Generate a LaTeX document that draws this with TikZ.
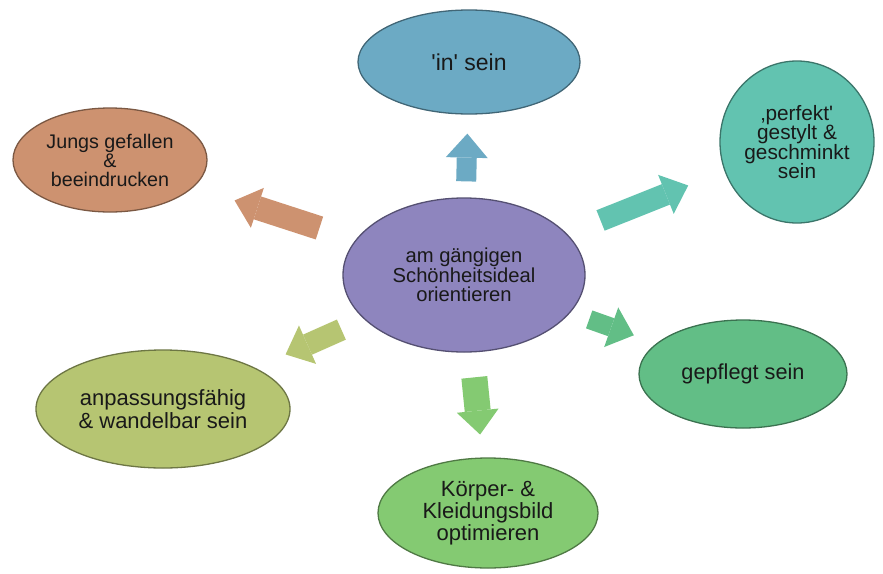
\documentclass[tikz,border=0pt]{standalone}
\usepackage{fontspec}
\setmainfont{Liberation Sans}[Ligatures=TeXOff]
\usepackage{xcolor}
\usetikzlibrary{shapes.geometric,arrows.meta}

\definecolor{hubcol}{RGB}{142,133,190}
\definecolor{incol}{RGB}{108,170,196}
\definecolor{perfcol}{RGB}{98,195,176}
\definecolor{pflegecol}{RGB}{98,190,134}
\definecolor{koerpercol}{RGB}{132,202,114}
\definecolor{anpasscol}{RGB}{182,197,114}
\definecolor{jungscol}{RGB}{205,146,112}

\begin{document}
\begin{tikzpicture}[x=1pt,y=-1pt,
    bubble/.style={ellipse, draw=#1!60!black, line width=1.3pt, fill=#1,
        inner sep=0pt, align=center, text=black!90},
    fatarrow/.style={draw=#1, line width=22pt,
        -{Triangle[length=24pt,width=42pt,line width=0pt]}},
]

    % Frame
    \useasboundingbox (0,0) rectangle (883,573);

    % Centre
    \node[bubble=hubcol, minimum width=242pt, minimum height=154pt,
        font=\fontsize{20.2}{19.5}\selectfont] (hub) at (464,275)
        {am gängigen\\Schönheitsideal\\orientieren};

    % Outer bubbles
    \node[bubble=incol, minimum width=222pt, minimum height=104pt,
        font=\fontsize{23}{23}\selectfont] (in) at (469,62) {'in' sein};
    \node[bubble=perfcol, minimum width=154pt, minimum height=162pt,
        font=\fontsize{20.8}{19.5}\selectfont] (perf) at (797,142)
        {‚perfekt'\\gestylt \&\\geschminkt\\sein};
    \node[bubble=pflegecol, minimum width=208pt, minimum height=108pt,
        font=\fontsize{21.7}{21}\selectfont] (pflege) at (743,374) {gepflegt sein};
    \node[bubble=koerpercol, minimum width=220pt, minimum height=110pt,
        font=\fontsize{22}{21.7}\selectfont] (koerper) at (488,513)
        {Körper- \&\\Kleidungsbild\\optimieren};
    \node[bubble=anpasscol, minimum width=254pt, minimum height=118pt,
        font=\fontsize{22}{22.5}\selectfont] (anpass) at (163,409)
        {anpassungsfähig\\\& wandelbar sein};
    \node[bubble=jungscol, minimum width=194pt, minimum height=104pt,
        font=\fontsize{19.7}{19}\selectfont] (jungs) at (110,160)
        {Jungs gefallen\\\&\\beeindrucken};

    % Block arrows
    \draw[fatarrow=incol, line width=20pt, shorten <=16pt, shorten >=19pt] (hub) -- (in);
    \draw[fatarrow=perfcol, shorten <=36pt, shorten >=39pt] (hub) -- (perf);
    \draw[fatarrow=pflegecol, line width=19pt, shorten <=20pt, shorten >=24pt] (hub) -- (pflege);
    \draw[fatarrow=koerpercol, line width=26pt, shorten <=25pt, shorten >=23pt] (hub) -- (koerper);
    \draw[fatarrow=anpasscol, shorten <=25pt, shorten >=33pt] (hub) -- (anpass);
    \draw[fatarrow=jungscol, line width=24pt, shorten <=38pt, shorten >=43pt] (hub) -- (jungs);

\end{tikzpicture}
\end{document}
